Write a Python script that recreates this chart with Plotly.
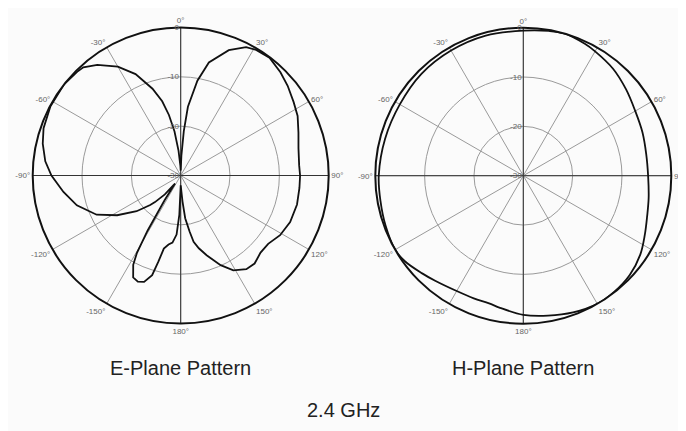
import plotly.graph_objects as go

# ---------------- data ----------------
E_THETA = [-180, -178, -176, -173, -170, -167, -165.5, -164, -161, -158, -155, -152,
           -150.5, -149, -147, -145, -143, -140, -136, -134, -129, -122, -115, -106,
           -98, -90, -84, -77, -71, -62, -52, -45, -42, -37, -30, -24, -18, -14,
           -11, -8, -5, -2, 0, 2, 4, 6, 10, 14, 21, 27, 31, 37, 44, 50, 57, 63, 70,
           77, 85, 90, 96, 104, 113, 121, 128, 134, 140, 145, 151, 156, 162, 166,
           169, 171, 174, 176, 180]
E_DB = [-28, -22, -18, -16.3, -15.8, -14.8, -12, -9, -7.2, -6.8, -7.2, -9.5,
        -12, -17, -24, -28, -27.5, -25, -22.5, -21.4, -18.5, -14.8, -11.2, -8.1,
        -6, -3.8, -2.4, -1.3, -0.6, -0.1, 0, -0.3, -0.5, -1.9, -4.5, -7.5, -11.5, -14.5,
        -17.5, -21, -25, -28, -29, -26, -21, -16, -10.5, -6.4, -2.8, -0.8, -0.3, -0.1, -0.9, -1.7, -2.7, -3.4, -4.6,
        -5.5, -5.9, -5.8, -5.8, -5.7, -5.9, -6.5, -7.5, -7.5, -6.7, -6.8, -8, -10.1, -13, -14.8,
        -16.3, -18.5, -21.3, -24.7, -28]

H_THETA = [-180, -170, -165, -158, -150, -140, -134, -126, -120, -110, -100, -90,
           -75, -60, -45, -30, -15, 0, 10, 16, 25, 30, 40, 50, 60, 70, 80, 90,
           100, 108, 116, 124, 133, 142, 150, 160, 170, 180]
H_DB = [-1.8, -2.8, -3.2, -3.2, -3.0, -2.2, -1.5, -0.4, 0, -0.3, -0.6, -0.7,
        -1.0, -1.1, -0.8, -0.7, -0.6, -0.6, -0.2, 0, -0.5, -0.9, -1.7, -2.8, -3.8, -4.3, -4.7, -4.7,
        -4.2, -3.6, -2.6, -1.4, -0.5, -0.1, 0, -0.5, -1.2, -1.8]

ANG_TICKS = [0, 30, 60, 90, 120, 150, 180, 210, 240, 270, 300, 330]
ANG_LABELS = ["0°", "30°", "60°", "90°", "120°", "150°", "180°",
              "-150°", "-120°", "-90°", "-60°", "-30°"]
R_TICKS = [-30, -20, -10, 0]
R_LABELS = ["-30", "-20", "-10", "0"]
R_RANGE = [-30, 0]

TITLES = ["E-Plane Pattern", "H-Plane Pattern"]
FREQ = "2.4 GHz"

BG = "#fbfbfb"
OFF = 8                      # page body margin
W, H = 686 - OFF, 431 - OFF  # figure size that fits the window

fig = go.Figure()

def add_cross(sub):
    # darker 0-180 and 90-270 axis lines
    for a, b in [(ANG_TICKS[0], ANG_TICKS[6]), (ANG_TICKS[3], ANG_TICKS[9])]:
        fig.add_trace(go.Scatterpolar(
            r=[R_RANGE[1], R_RANGE[0], R_RANGE[1]], theta=[a, a, b],
            mode="lines", line=dict(color="#333333", width=1),
            hoverinfo="skip", showlegend=False, subplot=sub))

add_cross("polar")
add_cross("polar2")

fig.add_trace(go.Scatterpolar(r=E_DB, theta=E_THETA, mode="lines",
                              line=dict(color="#111111", width=1.8),
                              showlegend=False, subplot="polar"))
fig.add_trace(go.Scatterpolar(r=H_DB, theta=H_THETA, mode="lines",
                              line=dict(color="#111111", width=1.8, shape="spline", smoothing=1),
                              showlegend=False, subplot="polar2"))

def px(x):
    return (x - OFF) / W

def py(y):
    return 1 - (y - OFF) / H

def polar_layout(cx, cy, rad):
    return dict(
        domain=dict(x=[px(cx - rad), px(cx + rad)], y=[py(cy + rad), py(cy - rad)]),
        bgcolor=BG,
        angularaxis=dict(
            rotation=90, direction="clockwise",
            tickmode="array", tickvals=ANG_TICKS, ticktext=ANG_LABELS,
            ticks="", showline=True, linecolor="#111111", linewidth=2,
            gridcolor="#9a9a9a", gridwidth=1,
            tickfont=dict(family="Liberation Sans, Arial", size=8, color="#666666"),
        ),
        radialaxis=dict(
            range=R_RANGE, tickmode="array", tickvals=R_TICKS, ticktext=R_LABELS,
            angle=90, tickangle=90, side="counterclockwise",
            showline=False, ticks="",
            gridcolor="#9a9a9a", gridwidth=1,
            tickfont=dict(family="Liberation Sans, Arial", size=8, color="#666666"),
        ),
    )

fig.update_layout(
    width=W, height=H,
    margin=dict(l=0, r=0, t=0, b=0),
    paper_bgcolor=BG, plot_bgcolor=BG,
    polar=polar_layout(180.7, 175.5, 148),
    polar2=polar_layout(523.3, 175.7, 148),
    showlegend=False,
)

ann_font = dict(family="Liberation Sans, Arial", size=20, color="#222222")
fig.add_annotation(text=TITLES[0], x=px(180.7), y=py(368), xref="paper", yref="paper",
                   showarrow=False, font=ann_font, xanchor="center", yanchor="middle")
fig.add_annotation(text=TITLES[1], x=px(523.3), y=py(368), xref="paper", yref="paper",
                   showarrow=False, font=ann_font, xanchor="center", yanchor="middle")
fig.add_annotation(text=FREQ, x=px(343), y=py(410), xref="paper", yref="paper",
                   showarrow=False, font=ann_font, xanchor="center", yanchor="middle")

fig.write_html("out.html")
